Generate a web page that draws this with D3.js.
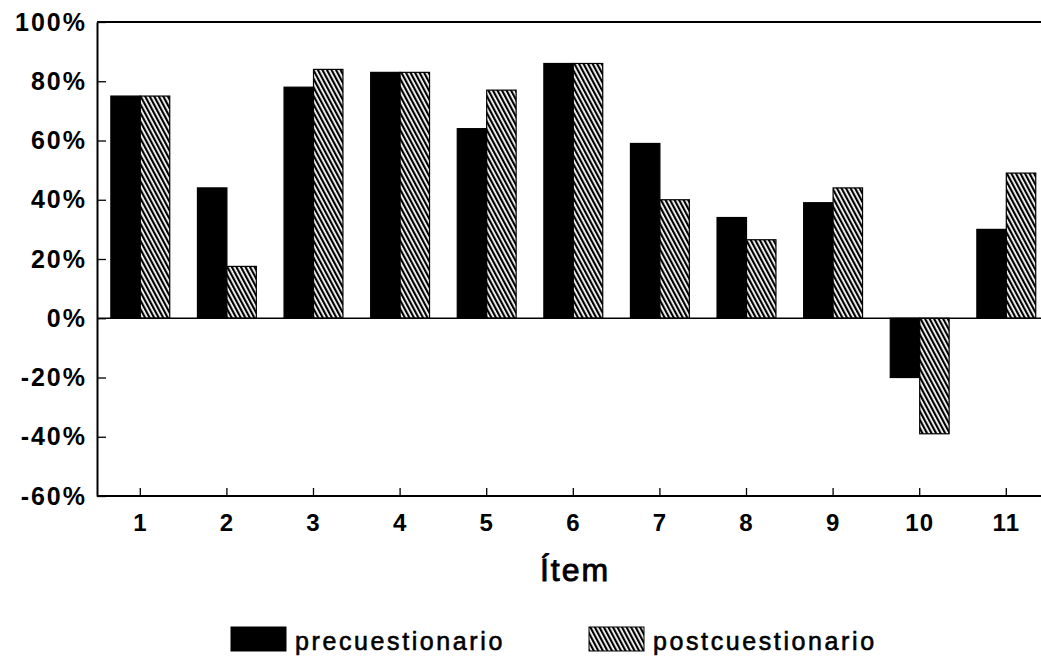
<!DOCTYPE html>
<html>
<head>
<meta charset="utf-8">
<script src="https://cdn.jsdelivr.net/npm/d3@7"></script>
<style>
  body { margin: 0; background: #fff; }
  svg { display: block; }
</style>
</head>
<body>
<div id="chart"></div>
<script>
// data
var items = ["1", "2", "3", "4", "5", "6", "7", "8", "9", "10", "11"];
var series = ["precuestionario", "postcuestionario"];
var preValues = [75, 44, 78, 83, 64, 86, 59, 34, 39, -20, 30];
var postValues = [75, 17.5, 84, 83, 77, 86, 40, 26.5, 44, -39, 49];
var yTicks = [-60, -40, -20, 0, 20, 40, 60, 80, 100];

var svgWidth = 1041;
var svgHeight = 657;

var margin = { top: 22, left: 97, bottom: 161 };

var rows = items.map(function(d, i) {
  return { item: d, values: [
    { key: series[0], value: preValues[i] },
    { key: series[1], value: postValues[i] }
  ] };
});

var svg = d3.select("#chart")
  .append("svg")
  .attr("width", svgWidth)
  .attr("height", svgHeight);

// hatch pattern for postcuestionario
var defs = svg.append("defs");
defs.append("pattern")
  .attr("id", "hatch")
  .attr("patternUnits", "userSpaceOnUse")
  .attr("width", 4)
  .attr("height", 4)
  .attr("patternTransform", "rotate(-28)")
  .call(function(p) {
    p.append("rect").attr("width", 4).attr("height", 4).attr("fill", "#fff");
    p.append("rect").attr("width", 2.2).attr("height", 4).attr("fill", "#000");
  });

// scales
var x0 = d3.scaleBand()
  .domain(items)
  .range([margin.left, margin.left + 11 * 86.6])
  .paddingInner(0.32)
  .paddingOuter(0.16);

var x1 = d3.scaleBand()
  .domain(series)
  .range([0, x0.bandwidth()]);

var y = d3.scaleLinear()
  .domain([-60, 100])
  .range([svgHeight - margin.bottom, margin.top]);

var fill = d3.scaleOrdinal()
  .domain(series)
  .range(["#000", "url(#hatch)"]);

// bars
var groups = svg.append("g")
  .selectAll("g")
  .data(rows)
  .enter()
  .append("g")
  .attr("transform", d => `translate(${x0(d.item)},0)`);

groups.selectAll("rect")
  .data(d => d.values)
  .enter()
  .append("rect")
  .attr("x", d => x1(d.key))
  .attr("y", d => y(Math.max(0, d.value)))
  .attr("width", x1.bandwidth())
  .attr("height", d => Math.abs(y(d.value) - y(0)))
  .attr("fill", d => fill(d.key))
  .attr("stroke", "#000")
  .attr("stroke-width", 1.2);

// frame lines: top, zero line
svg.append("line")
  .attr("x1", margin.left).attr("x2", svgWidth)
  .attr("y1", y(100)).attr("y2", y(100))
  .attr("stroke", "#000").attr("stroke-width", 2);

svg.append("line")
  .attr("x1", margin.left).attr("x2", svgWidth)
  .attr("y1", y(0)).attr("y2", y(0))
  .attr("stroke", "#000").attr("stroke-width", 1.3);

// axes
var leftAxis = d3.axisLeft(y)
  .tickValues(yTicks)
  .tickFormat(d => d + "%")
  .tickSizeInner(-9)
  .tickSizeOuter(0)
  .tickPadding(10);

var bottomAxis = d3.axisBottom(x0)
  .tickSizeInner(-8)
  .tickSizeOuter(0)
  .tickPadding(18);

var yAxisG = svg.append("g")
  .attr("transform", `translate(${margin.left},0)`)
  .call(leftAxis);

var xAxisG = svg.append("g")
  .attr("transform", `translate(0,${y(-60)})`)
  .call(bottomAxis);

[yAxisG, xAxisG].forEach(function(g) {
  g.select(".domain").attr("stroke", "#000").attr("stroke-width", 2);
  g.selectAll(".tick line").attr("stroke", "#000").attr("stroke-width", 1.3);
  g.selectAll("text")
    .attr("fill", "#000")
    .attr("font-family", "'Liberation Sans', Arial, sans-serif")
    .attr("font-weight", "bold");
});

yAxisG.selectAll("text")
  .attr("font-size", "25px")
  .attr("letter-spacing", "2px");

xAxisG.selectAll("text")
  .attr("font-size", "24px")
  .attr("letter-spacing", "1px");

xAxisG.select(".domain").attr("d", `M${margin.left},0H${svgWidth}`);

// axis title
svg.append("text")
  .attr("x", 575)
  .attr("y", 581)
  .attr("text-anchor", "middle")
  .attr("font-family", "'Liberation Sans', Arial, sans-serif")
  .attr("font-size", "32px")
  .attr("letter-spacing", "2px")
  .attr("fill", "#000")
  .attr("stroke", "#000")
  .attr("stroke-width", 0.9)
  .text("Ítem");

// legend
var legendX = [231, 589];
var legend = svg.append("g")
  .selectAll("g")
  .data(series)
  .enter()
  .append("g")
  .attr("transform", (d, i) => `translate(${legendX[i]},627)`);

legend.append("rect")
  .attr("width", 55)
  .attr("height", 24)
  .attr("fill", d => fill(d))
  .attr("stroke", "#000")
  .attr("stroke-width", 1);

legend.append("text")
  .attr("x", 64)
  .attr("y", 23)
  .attr("font-family", "'Liberation Sans', Arial, sans-serif")
  .attr("font-size", "25px")
  .attr("letter-spacing", "2.6px")
  .attr("fill", "#000")
  .attr("stroke", "#000")
  .attr("stroke-width", 0.6)
  .text(d => d);
</script>
</body>
</html>
